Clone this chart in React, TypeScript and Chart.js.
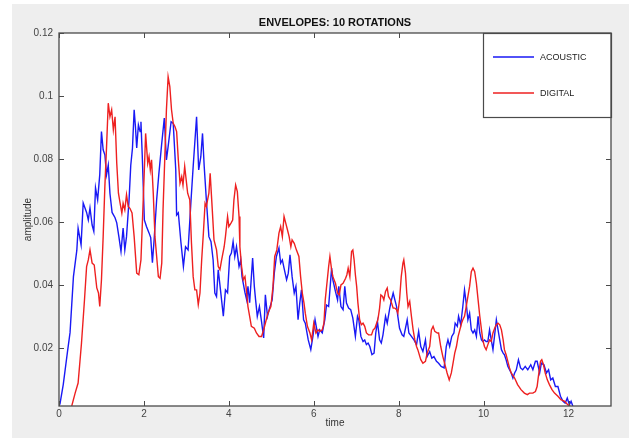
import React, { useEffect, useRef } from "react";
import { Chart, registerables } from "chart.js";

Chart.register(...registerables);

const chartTitle = "ENVELOPES: 10 ROTATIONS";
const xAxisTitle = "time";
const yAxisTitle = "amplitude";
const seriesNames = ["ACOUSTIC", "DIGITAL"];
const seriesColors = ["rgb(25,25,245)", "rgb(238,32,32)"];

const xTickValues = [0, 2, 4, 6, 8, 10, 12];
const xTickLabels = ["0", "2", "4", "6", "8", "10", "12"];
const yTickValues = [0.02, 0.04, 0.06, 0.08, 0.1, 0.12];
const yTickLabels = ["0.02", "0.04", "0.06", "0.08", "0.1", "0.12"];
const xMin = 0;
const xMax = 13;
const yMin = 0.0015;
const yMax = 0.12;

const acousticTime = [
  0.02, 0.1, 0.2, 0.26, 0.34, 0.42, 0.45, 0.52, 0.57, 0.65, 0.69, 0.73, 0.78, 0.82, 0.86, 0.91, 0.96, 1.0, 1.04, 1.08,
  1.12, 1.16, 1.2, 1.25, 1.32, 1.36, 1.41, 1.46, 1.51, 1.55, 1.59, 1.65, 1.69, 1.73, 1.77, 1.8, 1.83, 1.87, 1.91, 1.93,
  1.96, 2.01, 2.06, 2.12, 2.16, 2.2, 2.24, 2.3, 2.35, 2.42, 2.48, 2.53, 2.57, 2.64, 2.69, 2.75, 2.77, 2.81, 2.87, 2.93,
  2.98, 3.04, 3.11, 3.16, 3.24, 3.29, 3.34, 3.38, 3.42, 3.47, 3.53, 3.58, 3.63, 3.67, 3.71, 3.75, 3.81, 3.87, 3.92, 3.97,
  4.02, 4.06, 4.1, 4.14, 4.18, 4.24, 4.28, 4.31, 4.38, 4.42, 4.45, 4.49, 4.56, 4.6, 4.63, 4.67, 4.72, 4.77, 4.82, 4.86,
  4.91, 4.96, 5.02, 5.07, 5.12, 5.18, 5.22, 5.26, 5.3, 5.36, 5.4, 5.44, 5.49, 5.54, 5.58, 5.63, 5.67, 5.71, 5.76, 5.8,
  5.87, 5.93, 5.98, 6.03, 6.1, 6.14, 6.2, 6.26, 6.3, 6.35, 6.42, 6.45, 6.51, 6.56, 6.59, 6.64, 6.69, 6.73, 6.77, 6.82,
  6.87, 6.92, 6.98, 7.03, 7.06, 7.11, 7.16, 7.2, 7.24, 7.28, 7.32, 7.37, 7.42, 7.46, 7.5, 7.55, 7.59, 7.63, 7.69, 7.73,
  7.79, 7.83, 7.87, 7.91, 7.95, 7.98, 8.02, 8.08, 8.12, 8.16, 8.2, 8.24, 8.3, 8.36, 8.42, 8.47, 8.52, 8.57, 8.63, 8.67,
  8.73, 8.78, 8.83, 8.89, 8.94, 9.0, 9.07, 9.12, 9.16, 9.2, 9.25, 9.3, 9.33, 9.38, 9.41, 9.46, 9.51, 9.55, 9.59, 9.63,
  9.67, 9.71, 9.75, 9.79, 9.83, 9.87, 9.91, 9.95, 9.98, 10.02, 10.06, 10.1, 10.14, 10.18, 10.22, 10.26, 10.3, 10.34, 10.38, 10.42,
  10.46, 10.49, 10.53, 10.57, 10.61, 10.65, 10.69, 10.73, 10.77, 10.82, 10.87, 10.92, 10.98, 11.04, 11.11, 11.16, 11.22, 11.26, 11.32, 11.36,
  11.42, 11.48, 11.53, 11.58, 11.63, 11.69, 11.75, 11.81, 11.87, 11.92, 11.97, 12.02, 12.06, 12.1,
];
const acousticAmp = [
  0.0019, 0.0083, 0.0188, 0.0248, 0.0426, 0.051, 0.058, 0.0527, 0.066, 0.063, 0.0606, 0.0644, 0.059, 0.057, 0.0708, 0.067, 0.075, 0.0887, 0.0829, 0.0813,
  0.075, 0.078, 0.069, 0.063, 0.0613, 0.0597, 0.0553, 0.0506, 0.058, 0.0511, 0.0553, 0.067, 0.078, 0.0834, 0.0956, 0.0903, 0.0835, 0.0908, 0.0887, 0.0918,
  0.0813, 0.0606, 0.0585, 0.0565, 0.055, 0.047, 0.0543, 0.067, 0.075, 0.085, 0.093, 0.0797, 0.0839, 0.0918, 0.0913, 0.0765, 0.0622, 0.0629, 0.0537, 0.0458,
  0.0521, 0.0511, 0.067, 0.0776, 0.0934, 0.0765, 0.0807, 0.0881, 0.0776, 0.067, 0.0553, 0.0537, 0.0479, 0.0374, 0.0363, 0.0448, 0.0375, 0.03, 0.0384, 0.0375,
  0.049, 0.0501, 0.0537, 0.049, 0.0521, 0.0458, 0.0479, 0.0426, 0.0375, 0.0352, 0.0395, 0.0343, 0.0485, 0.0395, 0.0352, 0.03, 0.0331, 0.0283, 0.0231, 0.0368,
  0.03, 0.0326, 0.0352, 0.0437, 0.049, 0.0517, 0.0469, 0.0479, 0.0453, 0.0416, 0.0437, 0.0495, 0.0426, 0.0374, 0.0395, 0.0289, 0.0342, 0.0384, 0.0289, 0.0278,
  0.0225, 0.0194, 0.0236, 0.0289, 0.0236, 0.0257, 0.0247, 0.0289, 0.0336, 0.0331, 0.0453, 0.0416, 0.0379, 0.0352, 0.0395, 0.0331, 0.0321, 0.0395, 0.0342, 0.0326,
  0.0321, 0.0294, 0.0236, 0.03, 0.0289, 0.0236, 0.022, 0.0225, 0.021, 0.0215, 0.0204, 0.0178, 0.0183, 0.0247, 0.0283, 0.0225, 0.0215, 0.0241, 0.03, 0.0278,
  0.0326, 0.0352, 0.0374, 0.0352, 0.0331, 0.03, 0.0262, 0.0241, 0.0236, 0.0262, 0.0289, 0.0247, 0.0236, 0.0225, 0.021, 0.0252, 0.0204, 0.0188, 0.0225, 0.0172,
  0.0188, 0.0167, 0.0172, 0.0157, 0.0151, 0.0141, 0.0136, 0.0204, 0.0225, 0.0204, 0.0236, 0.0247, 0.0278, 0.0268, 0.03, 0.0273, 0.0331, 0.0384, 0.0342, 0.0289,
  0.031, 0.0257, 0.0247, 0.0257, 0.0236, 0.03, 0.0247, 0.0225, 0.022, 0.0225, 0.022, 0.022, 0.0257, 0.0225, 0.0194, 0.0241, 0.0289, 0.0257, 0.0225, 0.0194,
  0.0183, 0.0178, 0.0162, 0.0141, 0.013, 0.012, 0.0104, 0.012, 0.013, 0.0162, 0.0136, 0.013, 0.0141, 0.013, 0.0146, 0.013, 0.0157, 0.0157, 0.012, 0.0151,
  0.0146, 0.012, 0.013, 0.0098, 0.0104, 0.0077, 0.0077, 0.0046, 0.003, 0.0024, 0.004, 0.0019, 0.003, 0.0015,
];

const digitalTime = [
  0.3, 0.38, 0.45, 0.53, 0.6, 0.65, 0.69, 0.73, 0.78, 0.83, 0.89, 0.93, 0.96, 1.0, 1.04, 1.08, 1.12, 1.16, 1.2, 1.24,
  1.28, 1.32, 1.36, 1.4, 1.44, 1.48, 1.51, 1.55, 1.59, 1.63, 1.67, 1.72, 1.77, 1.83, 1.88, 1.93, 1.96, 2.01, 2.04, 2.09,
  2.12, 2.15, 2.18, 2.22, 2.26, 2.3, 2.34, 2.38, 2.42, 2.45, 2.49, 2.53, 2.57, 2.61, 2.65, 2.69, 2.73, 2.77, 2.81, 2.85,
  2.89, 2.92, 2.96, 3.03, 3.08, 3.12, 3.16, 3.2, 3.24, 3.28, 3.32, 3.36, 3.4, 3.44, 3.47, 3.53, 3.56, 3.61, 3.65, 3.71,
  3.75, 3.79, 3.83, 3.89, 3.92, 3.97, 4.0, 4.05, 4.09, 4.12, 4.16, 4.2, 4.24, 4.26, 4.3, 4.34, 4.38, 4.42, 4.45, 4.49,
  4.53, 4.6, 4.65, 4.71, 4.77, 4.82, 4.86, 4.92, 4.99, 5.04, 5.08, 5.13, 5.18, 5.22, 5.26, 5.3, 5.34, 5.38, 5.42, 5.46,
  5.49, 5.54, 5.59, 5.65, 5.69, 5.73, 5.77, 5.8, 5.85, 5.91, 5.95, 6.0, 6.05, 6.1, 6.14, 6.2, 6.24, 6.27, 6.31, 6.35,
  6.38, 6.42, 6.45, 6.51, 6.56, 6.6, 6.64, 6.69, 6.75, 6.78, 6.81, 6.85, 6.89, 6.92, 6.95, 6.98, 7.01, 7.04, 7.08, 7.12,
  7.16, 7.2, 7.24, 7.29, 7.36, 7.4, 7.44, 7.48, 7.51, 7.55, 7.58, 7.62, 7.65, 7.69, 7.73, 7.76, 7.81, 7.87, 7.91, 7.95,
  7.98, 8.02, 8.06, 8.1, 8.12, 8.16, 8.19, 8.22, 8.26, 8.3, 8.34, 8.38, 8.42, 8.45, 8.52, 8.57, 8.63, 8.67, 8.73, 8.77,
  8.81, 8.85, 8.91, 8.94, 8.99, 9.04, 9.1, 9.14, 9.19, 9.24, 9.28, 9.32, 9.36, 9.4, 9.44, 9.48, 9.51, 9.55, 9.59, 9.63,
  9.67, 9.71, 9.75, 9.79, 9.83, 9.87, 9.91, 9.95, 9.98, 10.02, 10.06, 10.1, 10.14, 10.18, 10.22, 10.26, 10.3, 10.34, 10.38, 10.42,
  10.46, 10.49, 10.53, 10.57, 10.61, 10.65, 10.73, 10.8, 10.88, 10.96, 11.03, 11.08, 11.16, 11.22, 11.26, 11.29, 11.34, 11.37, 11.41, 11.45,
  11.5, 11.55, 11.61, 11.67, 11.75, 11.82, 11.91, 11.98, 12.04,
];
const digitalAmp = [
  0.0015, 0.0056, 0.0088, 0.0215, 0.0352, 0.0458, 0.0479, 0.0511, 0.0469, 0.0463, 0.039, 0.0374, 0.0331, 0.0416, 0.0553, 0.0712, 0.0839, 0.0977, 0.0934, 0.0956,
  0.0892, 0.0934, 0.0786, 0.0691, 0.0659, 0.0628, 0.0659, 0.0638, 0.0686, 0.0649, 0.0643, 0.0628, 0.0553, 0.0437, 0.0432, 0.0479, 0.0585, 0.0765, 0.0881, 0.0786,
  0.0807, 0.0765, 0.0797, 0.0691, 0.0553, 0.049, 0.0426, 0.0421, 0.0469, 0.0638, 0.0797, 0.0956, 0.1061, 0.103, 0.0956, 0.0913, 0.0903, 0.0887, 0.0797, 0.0723,
  0.0744, 0.0717, 0.0776, 0.0691, 0.067, 0.0532, 0.0426, 0.0384, 0.0384, 0.0337, 0.0374, 0.0479, 0.0564, 0.0659, 0.0649, 0.0691, 0.0754, 0.0638, 0.0543, 0.0511,
  0.0458, 0.0448, 0.0479, 0.0521, 0.0553, 0.0617, 0.0585, 0.0596, 0.0606, 0.067, 0.0717, 0.0696, 0.0617, 0.0521, 0.0458, 0.0416, 0.0426, 0.0374, 0.0331, 0.03,
  0.0268, 0.0262, 0.0247, 0.0236, 0.0236, 0.0257, 0.0278, 0.031, 0.0331, 0.0395, 0.049, 0.0511, 0.0564, 0.0585, 0.0553, 0.0617, 0.0596, 0.0575, 0.0553, 0.0521,
  0.0543, 0.0532, 0.0511, 0.049, 0.0426, 0.0374, 0.0342, 0.031, 0.0268, 0.0247, 0.0225, 0.0278, 0.0247, 0.0257, 0.0252, 0.0257, 0.0278, 0.0352, 0.0405, 0.0458,
  0.049, 0.0448, 0.0426, 0.0405, 0.0374, 0.0368, 0.04, 0.0405, 0.0421, 0.0432, 0.0453, 0.0426, 0.0506, 0.0511, 0.0479, 0.0432, 0.0395, 0.0342, 0.0289, 0.0273,
  0.0278, 0.0268, 0.0247, 0.0241, 0.0241, 0.0257, 0.0262, 0.0278, 0.0289, 0.0326, 0.0368, 0.0363, 0.0352, 0.0379, 0.039, 0.0363, 0.0352, 0.0326, 0.0326, 0.0321,
  0.031, 0.0352, 0.0426, 0.0469, 0.0479, 0.0437, 0.0374, 0.0331, 0.0347, 0.03, 0.0257, 0.0225, 0.0204, 0.0194, 0.0162, 0.0151, 0.0157, 0.0183, 0.0204, 0.0257,
  0.0268, 0.0252, 0.0247, 0.0247, 0.0204, 0.0172, 0.0141, 0.012, 0.0098, 0.012, 0.0151, 0.0183, 0.0204, 0.0236, 0.0257, 0.0278, 0.0289, 0.03, 0.0331, 0.0363,
  0.0395, 0.0442, 0.0453, 0.0442, 0.0405, 0.0352, 0.03, 0.0257, 0.0225, 0.0204, 0.0194, 0.021, 0.0225, 0.022, 0.0247, 0.0262, 0.0273, 0.0278, 0.0273, 0.0257,
  0.0225, 0.0194, 0.0178, 0.0157, 0.0136, 0.012, 0.0104, 0.0083, 0.0067, 0.0056, 0.0051, 0.0056, 0.0056, 0.0061, 0.0077, 0.0109, 0.0157, 0.0162, 0.0146, 0.012,
  0.0098, 0.0083, 0.0067, 0.0056, 0.0046, 0.0035, 0.003, 0.0019, 0.0015,
];

const FONT = "'Liberation Sans', Arial, Helvetica, sans-serif";

const decorPlugin = {
  id: "matlabDecor",
  beforeDatasetsDraw(chart: any) {
    const ctx = chart.ctx;
    const a = chart.chartArea;
    ctx.save();
    ctx.fillStyle = "#ffffff";
    ctx.fillRect(a.left, a.top, a.right - a.left, a.bottom - a.top);
    ctx.restore();
  },
  afterDraw(chart: any) {
    const ctx = chart.ctx;
    const a = chart.chartArea;
    const xs = chart.scales.x;
    const ys = chart.scales.y;
    ctx.save();
    // inward tick marks on all four sides
    ctx.strokeStyle = "#4a4a4a";
    ctx.lineWidth = 1;
    const tl = 5;
    ctx.beginPath();
    xTickValues.forEach((v) => {
      const px = Math.round(xs.getPixelForValue(v)) + 0.5;
      ctx.moveTo(px, a.bottom);
      ctx.lineTo(px, a.bottom - tl);
      ctx.moveTo(px, a.top);
      ctx.lineTo(px, a.top + tl);
    });
    yTickValues.forEach((v) => {
      const py = Math.round(ys.getPixelForValue(v)) + 0.5;
      ctx.moveTo(a.left, py);
      ctx.lineTo(a.left + tl, py);
      ctx.moveTo(a.right, py);
      ctx.lineTo(a.right - tl, py);
    });
    ctx.stroke();

    // legend box
    const lw = 128;
    const lh = 84;
    const lx = a.right - lw;
    const ly = a.top;
    ctx.fillStyle = "#ffffff";
    ctx.fillRect(lx, ly, lw, lh);
    ctx.strokeStyle = "#4a4a4a";
    ctx.lineWidth = 1.2;
    ctx.strokeRect(lx + 0.5, ly + 0.5, lw, lh);
    const rowY = [ly + 24, ly + 60];
    seriesNames.forEach((name, i) => {
      ctx.strokeStyle = seriesColors[i];
      ctx.lineWidth = 1.3;
      ctx.beginPath();
      ctx.moveTo(lx + 10, rowY[i]);
      ctx.lineTo(lx + 51, rowY[i]);
      ctx.stroke();
      ctx.fillStyle = "#222222";
      ctx.font = `9px ${FONT}`;
      ctx.textAlign = "left";
      ctx.textBaseline = "middle";
      ctx.fillText(name, lx + 57, rowY[i] + 0.5);
    });

    // plot frame
    ctx.strokeStyle = "#4a4a4a";
    ctx.lineWidth = 1.3;
    ctx.strokeRect(a.left, a.top, a.right - a.left, a.bottom - a.top);

    // title
    const cx = (a.left + a.right) / 2;
    ctx.fillStyle = "#111111";
    ctx.font = `bold 11px ${FONT}`;
    ctx.textAlign = "center";
    ctx.textBaseline = "middle";
    ctx.fillText(chartTitle, cx, a.top - 10);

    // axis titles
    ctx.fillStyle = "#333333";
    ctx.font = `10px ${FONT}`;
    ctx.fillText(xAxisTitle, cx, a.bottom + 17);
    ctx.save();
    ctx.translate(16, (a.top + a.bottom) / 2);
    ctx.rotate(-Math.PI / 2);
    ctx.fillText(yAxisTitle, 0, 0);
    ctx.restore();

    ctx.restore();
  },
};

export default function App() {
  const canvasRef = useRef<HTMLCanvasElement | null>(null);

  useEffect(() => {
    const canvas = canvasRef.current;
    if (!canvas) return;
    const acoustic = acousticTime.map((t, i) => ({ x: t, y: acousticAmp[i] }));
    const digital = digitalTime.map((t, i) => ({ x: t, y: digitalAmp[i] }));
    const chart = new Chart(canvas, {
      type: "line",
      data: {
        datasets: [
          {
            label: seriesNames[0],
            data: acoustic,
            borderColor: seriesColors[0],
            borderWidth: 1.4,
            pointRadius: 0,
            tension: 0,
            fill: false,
            order: 1,
          },
          {
            label: seriesNames[1],
            data: digital,
            borderColor: seriesColors[1],
            borderWidth: 1.4,
            pointRadius: 0,
            tension: 0,
            fill: false,
            order: 0,
          },
        ],
      },
      options: {
        animation: false,
        responsive: false,
        maintainAspectRatio: false,
        layout: { padding: { top: 29, right: 18, left: 0, bottom: 0 } },
        plugins: {
          legend: { display: false },
          title: { display: false },
          tooltip: { enabled: false },
        },
        scales: {
          x: {
            type: "linear",
            min: xMin,
            max: xMax,
            afterBuildTicks: (s: any) => {
              s.ticks = xTickValues.map((v) => ({ value: v }));
            },
            afterFit: (s: any) => {
              s.height = 32;
            },
            grid: { display: false, drawTicks: false },
            border: { display: false },
            ticks: {
              autoSkip: false,
              maxRotation: 0,
              padding: 2,
              color: "#444444",
              font: { family: FONT, size: 10 },
              callback: (_v: any, i: number) => xTickLabels[i],
            },
          },
          y: {
            type: "linear",
            min: yMin,
            max: yMax,
            afterBuildTicks: (s: any) => {
              s.ticks = yTickValues.map((v) => ({ value: v }));
            },
            afterFit: (s: any) => {
              s.width = 47;
            },
            grid: { display: false, drawTicks: false },
            border: { display: false },
            ticks: {
              autoSkip: false,
              padding: 6,
              color: "#444444",
              font: { family: FONT, size: 10 },
              callback: (_v: any, i: number) => yTickLabels[i],
            },
          },
        },
      },
      plugins: [decorPlugin],
    });
    return () => chart.destroy();
  }, []);

  return (
    <div style={{ position: "absolute", left: 0, top: 0, width: 629, height: 438, background: "#ffffff", overflow: "hidden" }}>
      <div style={{ position: "absolute", left: 12, top: 4, width: 617, height: 434, background: "#eeeeee" }}>
        <canvas ref={canvasRef} width={617} height={434} style={{ width: 617, height: 434, display: "block" }} />
      </div>
    </div>
  );
}
